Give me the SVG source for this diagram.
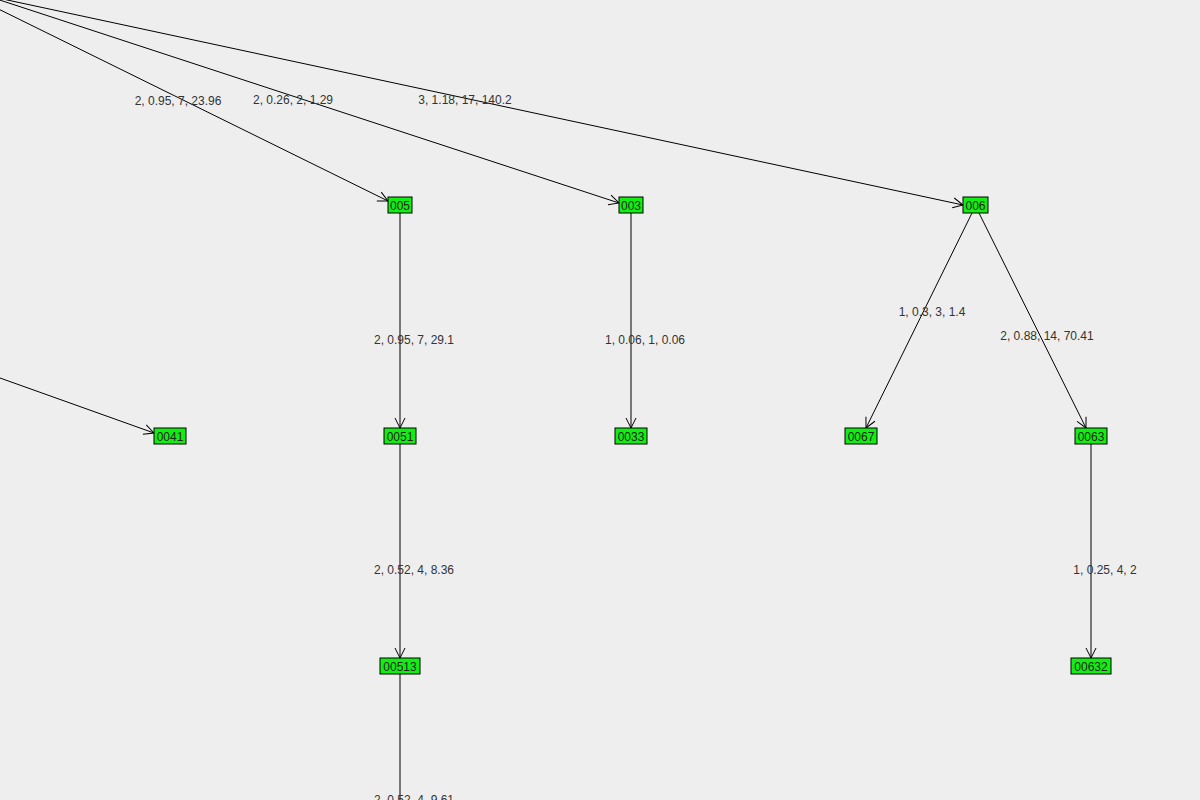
<svg xmlns="http://www.w3.org/2000/svg" width="1200" height="800" viewBox="0 0 1200 800">
<defs>
<marker id="a" markerWidth="12" markerHeight="12" refX="11" refY="6" orient="auto" markerUnits="userSpaceOnUse"><path d="M1,1 L11,6 L1,11" fill="none" stroke="#000" stroke-width="1"/></marker>
<style>
.n rect{fill:#11ee11;stroke:#000;stroke-width:1}
.n text{font-family:"Liberation Sans",sans-serif;font-size:12px;fill:#222;text-anchor:middle}
.e line{stroke:#000;stroke-width:1;marker-end:url(#a)}
.l{font-family:"Liberation Sans",sans-serif;font-size:12px;fill:#333;text-anchor:middle}
</style>
</defs>
<rect width="1200" height="800" fill="#eeeeee"/>
<g id="connectors" class="e">
<line x1="-30" y1="-5" x2="388" y2="201"/>
<line x1="-40" y1="-13" x2="619" y2="203"/>
<line x1="-30" y1="-8" x2="963" y2="205"/>
<line x1="0" y1="378" x2="154" y2="433"/>
<line x1="400" y1="213" x2="400" y2="428"/>
<line x1="631" y1="213" x2="631" y2="428"/>
<line x1="972" y1="213" x2="866" y2="428"/>
<line x1="979" y1="213" x2="1086" y2="428"/>
<line x1="400" y1="444" x2="400" y2="658"/>
<line x1="1091" y1="444" x2="1091" y2="658"/>
<line x1="400" y1="674" x2="400" y2="800" style="marker-end:none"/>
<text class="l" x="178" y="105">2, 0.95, 7, 23.96</text>
<text class="l" x="293" y="104">2, 0.26, 2, 1.29</text>
<text class="l" x="465" y="104">3, 1.18, 17, 140.2</text>
<text class="l" x="414" y="344">2, 0.95, 7, 29.1</text>
<text class="l" x="645" y="344">1, 0.06, 1, 0.06</text>
<text class="l" x="932" y="316">1, 0.3, 3, 1.4</text>
<text class="l" x="1047" y="340">2, 0.88, 14, 70.41</text>
<text class="l" x="414" y="574">2, 0.52, 4, 8.36</text>
<text class="l" x="1105" y="574">1, 0.25, 4, 2</text>
<text class="l" x="414" y="804">2, 0.52, 4, 9.61</text>
</g>
<g id="n005" class="n"><rect x="388" y="197" width="24" height="16"/><text x="400" y="210">005</text></g>
<g id="n003" class="n"><rect x="619" y="197" width="24" height="16"/><text x="631" y="210">003</text></g>
<g id="n006" class="n"><rect x="963" y="197" width="25" height="16"/><text x="975.5" y="210">006</text></g>
<g id="n0041" class="n"><rect x="154" y="428" width="32" height="16"/><text x="170" y="441">0041</text></g>
<g id="n0051" class="n"><rect x="384" y="428" width="32" height="16"/><text x="400" y="441">0051</text></g>
<g id="n0033" class="n"><rect x="615" y="428" width="32" height="16"/><text x="631" y="441">0033</text></g>
<g id="n0067" class="n"><rect x="845" y="428" width="32" height="16"/><text x="861" y="441">0067</text></g>
<g id="n0063" class="n"><rect x="1075" y="428" width="32" height="16"/><text x="1091" y="441">0063</text></g>
<g id="n00513" class="n"><rect x="380" y="658" width="40" height="16"/><text x="400" y="671">00513</text></g>
<g id="n00632" class="n"><rect x="1071" y="658" width="40" height="16"/><text x="1091" y="671">00632</text></g>
</svg>
